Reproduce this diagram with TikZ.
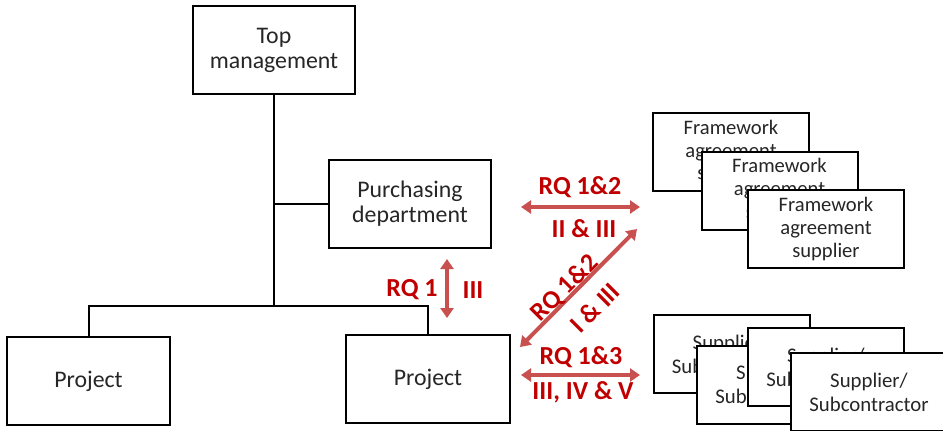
\documentclass[tikz,border=0pt]{standalone}
\usepackage{fontspec}
\setmainfont{Carlito}
\usetikzlibrary{arrows.meta}
\definecolor{arrred}{RGB}{200,80,78}
\definecolor{txtred}{RGB}{192,0,0}
\tikzset{
  orgbox/.style={draw=black, line width=1pt, fill=white, minimum width=81pt, minimum height=44pt, inner sep=1pt, align=center, text=black!85, font=\fontsize{11.9}{12.5}\selectfont},
  fabox/.style={draw=black, line width=1pt, fill=white, minimum width=78pt, minimum height=39pt, inner sep=1pt, align=center, text=black!85, font=\fontsize{10.3}{11.5}\selectfont},
  supbox/.style={fabox, font=\fontsize{10.4}{12}\selectfont},
  tree/.style={line width=1pt, draw=black},
  rqarrow/.style={line width=2pt, draw=arrred, {Triangle[width=6.5pt,length=5pt]}-{Triangle[width=6.5pt,length=5pt]}},
  rqtext/.style={text=txtred, font=\fontsize{13}{13}\selectfont\bfseries, inner sep=0pt}
}
\begin{document}
\begin{tikzpicture}[x=0.5pt,y=-0.5pt]
\useasboundingbox (0,0) rectangle (943,430);
% org chart
\node[orgbox] (top) at (274,50) {Top\\management};
\node[orgbox] (purch) at (410,204) {Purchasing\\department};
\node[orgbox, minimum width=81.5pt] (projL) at (88.5,381) {Project};
\node[orgbox, minimum width=82pt] (projR) at (428,379) {Project};
\coordinate (branch) at (274,306);
\draw[tree] (top.south) -- (branch);
\draw[tree] (purch.west) -- (purch.west -| top.south);
\draw[tree] (projL.north) -- (projL.north |- branch) -- (projR.north |- branch) -- (projR.north);
% framework agreement suppliers
\node[fabox] (fa1) at (731,151.5) {Framework\\agreement\\supplier};
\node[fabox] (fa2) at (779.5,190.5) {Framework\\agreement\\supplier};
\node[fabox] (fa3) at (826,228.5) {Framework\\agreement\\supplier};
% suppliers / subcontractors
\node[supbox] (s1) at (731.5,354) {Supplier/\\Subcontractor};
\node[supbox] (s2) at (775,384.5) {Supplier/\\Subcontractor};
\node[supbox] (s3) at (826,367) {Supplier/\\Subcontractor};
\node[supbox] (s4) at (869,392) {Supplier/\\Subcontractor};
% arrows
\coordinate (v1) at (447,259);
\coordinate (v2) at (447,318);
\draw[rqarrow] (v1) -- (v2);
\node[rqtext] (rq1) at (412,290) {RQ 1};
\node[rqtext] (rq1b) at (473,290) {III};

\coordinate (h1a) at (521,207);
\coordinate (h1b) at (640,207);
\draw[rqarrow] (h1a) -- (h1b);
\node[rqtext] (rq12) at (580,187) {RQ 1\&2};
\node[rqtext] (rq12b) at (584,229) {II \& III};

\coordinate (d1) at (520,347);
\coordinate (d2) at (637,229);
\draw[rqarrow] (d1) -- (d2);
\node[rqtext, rotate=45] (rq12d) at (565,288) {RQ 1\&2};
\node[rqtext, rotate=45] (rq12db) at (595,308) {I \& III};

\coordinate (h2a) at (521,375);
\coordinate (h2b) at (640,375);
\draw[rqarrow] (h2a) -- (h2b);
\node[rqtext] (rq13) at (581,357) {RQ 1\&3};
\node[rqtext] (rq13b) at (583,392) {III, IV \& V};
\end{tikzpicture}
\end{document}
